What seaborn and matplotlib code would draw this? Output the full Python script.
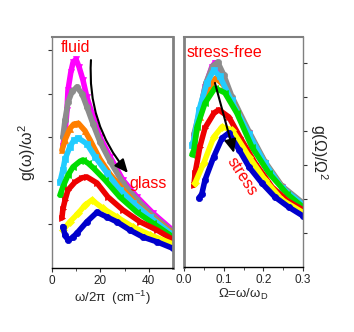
import matplotlib
matplotlib.use("Agg")
import matplotlib.pyplot as plt
import seaborn as sns
import numpy as np
import pandas as pd

# ---------------- data ----------------
series_names = ["s1", "s2", "s3", "s4", "s5", "s6", "s7", "s8"]
series_colors = ["#ff00ff", "#8c8c8c", "#ff7f00", "#22ccff", "#00dd00", "#ee0000", "#ffff00", "#0000cc"]
series_markers = ["v", "o", "^", "s", "<", ">", "D", "o"]

# left panel: frequency omega/2pi (cm^-1) vs g(w)/w^2 (arb.)
L_x_s1 = [4.5, 5.4, 6.2, 6.6, 7.8, 8.7, 9.9, 11.2, 12.8, 14.4, 17.0, 19.8, 24.0, 29.3, 35.1, 41.7, 50.0]
L_y_s1 = [2.8, 3.12, 3.62, 4.08, 4.5, 4.72, 4.79, 4.61, 4.31, 3.92, 3.47, 3.0, 2.55, 2.02, 1.63, 1.26, 0.86]
L_x_s2 = [4.5, 5.4, 6.6, 8.3, 10.3, 12.4, 14.4, 17.0, 19.8, 24.0, 29.3, 35.1, 41.7, 50.0]
L_y_s2 = [3.0, 3.4, 3.8, 4.05, 4.15, 4.0, 3.7, 3.3, 2.9, 2.45, 1.95, 1.57, 1.2, 0.82]
L_x_s3 = [4.1, 5.4, 7.4, 9.0, 10.9, 13.6, 15.7, 19.8, 24.0, 29.3, 35.1, 41.7, 50.0]
L_y_s3 = [2.7, 2.94, 3.2, 3.3, 3.32, 3.15, 2.94, 2.5, 2.15, 1.8, 1.45, 1.14, 0.79]
L_x_s4 = [3.3, 4.5, 5.4, 7.4, 9.0, 10.9, 14.4, 17.8, 22.7, 28.0, 33.5, 40.5, 50.0]
L_y_s4 = [1.97, 2.25, 2.5, 2.78, 2.93, 2.98, 2.85, 2.55, 2.18, 1.8, 1.5, 1.17, 0.76]
L_x_s5 = [3.3, 4.5, 6.6, 8.7, 11.6, 12.8, 15.0, 17.0, 21.9, 28.0, 35.1, 41.7, 50.0]
L_y_s5 = [1.67, 1.86, 2.13, 2.32, 2.45, 2.48, 2.4, 2.3, 2.02, 1.63, 1.28, 1.03, 0.71]
L_x_s6 = [4.1, 4.5, 5.4, 6.6, 9.5, 12.4, 14.4, 18.6, 23.1, 29.3, 36.4, 43.4, 50.0]
L_y_s6 = [1.15, 1.35, 1.56, 1.79, 1.97, 2.07, 2.09, 1.95, 1.63, 1.33, 1.06, 0.87, 0.65]
L_x_s7 = [4.5, 7.4, 10.9, 13.6, 16.5, 21.0, 26.8, 33.5, 40.5, 50.0]
L_y_s7 = [0.87, 1.06, 1.26, 1.44, 1.56, 1.37, 1.17, 0.94, 0.76, 0.55]
L_x_s8 = [4.5, 5.4, 6.6, 8.5, 10.3, 14.4, 18.6, 22.7, 26.8, 32.2, 37.6, 43.4, 50.0]
L_y_s8 = [0.95, 0.75, 0.64, 0.7, 0.8, 1.06, 1.28, 1.17, 1.06, 0.87, 0.71, 0.6, 0.45]

# right panel: reduced frequency Omega = w/w_D vs g(Omega)/Omega^2 (arb.)
R_x_s1 = [0.025, 0.038, 0.053, 0.070, 0.078, 0.096, 0.121, 0.164, 0.204, 0.247, 0.300]
R_y_s1 = [3.8, 4.41, 5.29, 5.88, 6.0, 5.59, 4.91, 3.94, 3.06, 2.35, 1.85]
R_x_s2 = [0.025, 0.040, 0.055, 0.072, 0.085, 0.100, 0.121, 0.164, 0.204, 0.247, 0.300]
R_y_s2 = [3.9, 4.6, 5.4, 5.9, 6.02, 5.65, 5.0, 3.98, 3.1, 2.38, 1.88]
R_x_s3 = [0.025, 0.040, 0.060, 0.080, 0.100, 0.130, 0.170, 0.210, 0.250, 0.300]
R_y_s3 = [3.6, 4.4, 5.2, 5.55, 5.35, 4.7, 3.75, 2.95, 2.3, 1.8]
R_x_s4 = [0.020, 0.025, 0.038, 0.058, 0.075, 0.090, 0.120, 0.164, 0.204, 0.247, 0.300]
R_y_s4 = [3.6, 3.74, 4.62, 5.41, 5.79, 5.6, 4.9, 3.9, 3.05, 2.33, 1.83]
R_x_s5 = [0.020, 0.025, 0.033, 0.053, 0.078, 0.103, 0.133, 0.171, 0.214, 0.260, 0.300]
R_y_s5 = [3.3, 3.44, 4.12, 4.82, 5.26, 5.12, 4.53, 3.53, 2.76, 2.15, 1.76]
R_x_s6 = [0.025, 0.028, 0.040, 0.053, 0.076, 0.088, 0.113, 0.141, 0.179, 0.222, 0.260, 0.300]
R_y_s6 = [2.4, 2.76, 3.53, 4.09, 4.53, 4.62, 4.41, 3.82, 3.06, 2.35, 1.95, 1.68]
R_x_s7 = [0.028, 0.050, 0.075, 0.096, 0.121, 0.164, 0.204, 0.247, 0.300]
R_y_s7 = [2.47, 3.06, 3.82, 4.12, 4.03, 3.24, 2.56, 1.97, 1.6]
R_x_s8 = [0.038, 0.045, 0.053, 0.075, 0.096, 0.113, 0.139, 0.164, 0.196, 0.229, 0.264, 0.300]
R_y_s8 = [2.03, 2.15, 2.56, 3.24, 3.79, 3.94, 3.44, 2.94, 2.47, 2.06, 1.76, 1.5]

left_x = [L_x_s1, L_x_s2, L_x_s3, L_x_s4, L_x_s5, L_x_s6, L_x_s7, L_x_s8]
left_y = [L_y_s1, L_y_s2, L_y_s3, L_y_s4, L_y_s5, L_y_s6, L_y_s7, L_y_s8]
right_x = [R_x_s1, R_x_s2, R_x_s3, R_x_s4, R_x_s5, R_x_s6, R_x_s7, R_x_s8]
right_y = [R_y_s1, R_y_s2, R_y_s3, R_y_s4, R_y_s5, R_y_s6, R_y_s7, R_y_s8]

left_xticks = [0, 20, 40]
right_xticks = [0.0, 0.1, 0.2, 0.3]
right_xticklabels = ["0.0", "0.1", "0.2", "0.3"]

# ---------------- style ----------------
sns.set_style("ticks")
plt.rcParams["font.family"] = ["Liberation Sans", "DejaVu Sans"]
plt.rcParams["mathtext.default"] = "regular"

fig = plt.figure(figsize=(3.54, 3.32), dpi=100)
axL = fig.add_axes([52 / 354, 1 - 268 / 332, 121 / 354, 231 / 332])
axR = fig.add_axes([184 / 354, 1 - 267 / 332, 119 / 354, 230 / 332])

def draw(ax, xs, ys):
    for name, x, y, c, m in zip(series_names, xs, ys, series_colors, series_markers):
        df = pd.DataFrame({"x": x, "y": y})
        sns.lineplot(data=df, x="x", y="y", ax=ax, color=c, linewidth=4.0,
                     marker=m, markersize=4.5, markeredgecolor=c, markeredgewidth=0.5,
                     sort=False, estimator=None, legend=False)

draw(axL, left_x, left_y)
draw(axR, right_x, right_y)

gray = "#808080"
for ax, inner in ((axL, "right"), (axR, "left")):
    for s in ("left", "right", "top"):
        ax.spines[s].set_color(gray)
        ax.spines[s].set_linewidth(1.0)
    ax.spines["top"].set_linewidth(1.5)
    ax.spines[inner].set_linewidth(2.0)
    ax.spines["bottom"].set_color("black")
    ax.spines["bottom"].set_linewidth(1.0)
    ax.set_xlabel("")
    ax.set_ylabel("")
    ax.tick_params(axis="both", direction="out", length=3, width=0.8, color="#333333",
                   labelsize=8.5, pad=2)
    ax.tick_params(axis="both", which="minor", direction="out", length=2, width=0.6, color="#333333")

# left axes
axL.set_xlim(0, 50)
axL.set_ylim(0, 5.3)
axL.set_xticks(left_xticks)
axL.set_xticks([10, 30], minor=True)
axL.set_yticks([1, 2, 3, 4, 5])
axL.set_yticklabels([])
axL.set_xlabel("ω/2π  (cm$^{-1}$)", fontsize=9.5, labelpad=1)
axL.set_ylabel("g(ω)/ω$^{2}$", fontsize=11.5, labelpad=5)

# right axes
axR.set_xlim(0, 0.3)
axR.set_ylim(0, 6.76)
axR.set_xticks(right_xticks)
axR.set_xticklabels(right_xticklabels)
axR.set_xticks([0.05, 0.15, 0.25], minor=True)
axR.set_yticks([1, 2, 3, 4, 5, 6])
axR.yaxis.tick_right()
axR.set_yticklabels([])
axR.yaxis.set_label_position("right")
axR.set_xlabel("Ω=ω/ω$_{D}$", fontsize=9.5, labelpad=1)
axR.set_ylabel("g(Ω)/Ω$^{2}$", fontsize=11.5, rotation=270, labelpad=14)

# annotations
red = "#ff0000"
axL.text(9.9, 5.05, "fluid", color=red, fontsize=11.5, ha="center", va="center")
axL.text(39.6, 1.95, "glass", color=red, fontsize=11.5, ha="center", va="center")
axL.annotate("", xy=(31.4, 2.18), xytext=(16.1, 4.77),
             arrowprops=dict(arrowstyle="-|>,head_length=0.8,head_width=0.35", color="black",
                             lw=1.5, connectionstyle="arc3,rad=0.2", shrinkA=0, shrinkB=0))

axR.text(0.103, 6.29, "stress-free", color=red, fontsize=11.5, ha="center", va="center")
axR.text(0.146, 2.65, "stress", color=red, fontsize=11.5, ha="center", va="center", rotation=-57)
axR.annotate("", xy=(0.126, 3.35), xytext=(0.078, 5.41),
             arrowprops=dict(arrowstyle="-|>,head_length=0.8,head_width=0.35", color="black",
                             lw=1.5, shrinkA=0, shrinkB=0))

fig.savefig("out.png", dpi=100)
